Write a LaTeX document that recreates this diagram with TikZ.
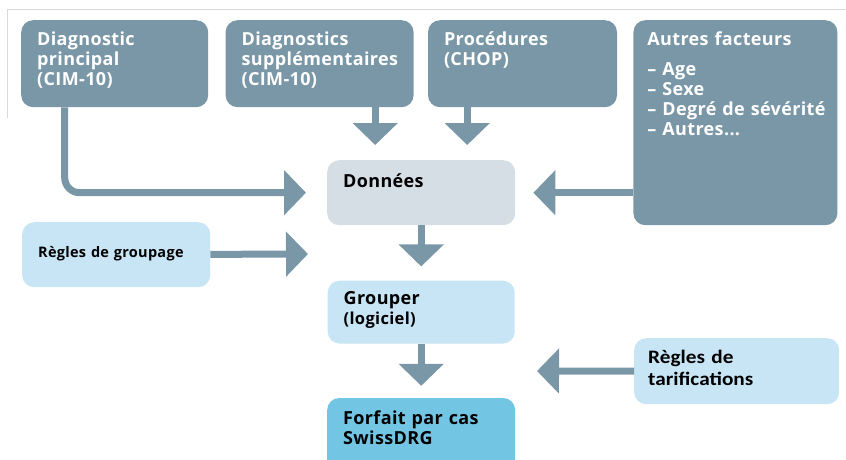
\documentclass[tikz,border=0pt]{standalone}
\usepackage{fontspec}
\setmainfont{Open Sans}[LetterSpace=2]
\newfontfamily\calfont{Carlito}[FakeStretch=1.12]
\usetikzlibrary{arrows.meta,positioning}

\definecolor{slate}{RGB}{122,151,168}
\definecolor{datagray}{RGB}{214,222,229}
\definecolor{paleblue}{RGB}{199,229,245}
\definecolor{swissblue}{RGB}{115,197,228}

\begin{document}
\begin{tikzpicture}[
    x=1pt, y=-1pt,
    box/.style={rectangle, rounded corners=12pt, anchor=north west, align=left, inner xsep=16pt, inner ysep=0pt, font=\bfseries\fontsize{18}{20}\selectfont},
    dark/.style={box, fill=slate, text=white},
    light/.style={box, fill=paleblue, text=black},
    boxdim/.style n args={3}{text width=#1, text height=#2, text depth=#3},
    fat/.style={draw=slate, line width=7pt, -{Triangle[length=22pt, width=44pt]}}
]
\useasboundingbox (0,0) rectangle (846,459);
\clip (0,0) rectangle (846,459);

% frame
\draw[black!15, line width=0.8pt] (7,118) -- (7,9) -- (846,9);

% inputs
\node[dark, boxdim={155pt}{25pt}{62pt}] (diagp) at (21,20) {Diagnostic\\principal\\(CIM-10)};
\node[dark, boxdim={156pt}{25pt}{62pt}] (diags) at ([xshift=17pt]diagp.north east) {Diagnostics\\supplémentaires\\(CIM-10)};
\node[dark, boxdim={157pt}{25pt}{62pt}] (proc) at ([xshift=14pt]diags.north east) {Procédures\\(CHOP)};
\node[dark, inner xsep=14pt, boxdim={176pt}{25pt}{180pt}] (autres) at ([xshift=16pt]proc.north east) {\mbox{Autres facteurs}\\[10pt]– Age\\– Sexe\\\mbox{– Degré de sévérité}\\– Autres...};

% flow
\node[box, fill=datagray, boxdim={156pt}{27pt}{38pt}] (data) at (327,160) {Données};
\node[light, boxdim={155pt}{24pt}{39pt}, below=55pt of data] (grouper) {Grouper\\{\fontsize{16.5}{20}\selectfont (logiciel)}};
\node[box, fill=swissblue, boxdim={156pt}{26pt}{54pt}, below=54pt of grouper] (forfait) {Forfait par cas\\SwissDRG};

% rules
\node[light, boxdim={156pt}{35pt}{30pt}, font=\bfseries\fontsize{14.5}{17}\selectfont] (grp) at (22,222) {Règles de groupage};
\node[light, inner xsep=14pt, boxdim={177pt}{25pt}{41pt}, font=\calfont\bfseries\fontsize{19}{22}\selectfont] (tarif) at (634,338) {Règles de\\tarifications};

\coordinate (grpin) at (308,254);
\coordinate (tarin) at (537,371);

\draw[fat, rounded corners=15pt, shorten >=21pt] ([xshift=-50pt]diagp.south) |- (data.west);
\draw[fat, shorten >=15pt] ([xshift=-46pt]data.north |- diags.south) -- ([xshift=-46pt]data.north);
\draw[fat, shorten >=15pt] ([xshift=46pt]data.north |- proc.south) -- ([xshift=46pt]data.north);
\draw[fat, shorten >=18pt] (autres.west |- data.east) -- (data.east);
\draw[fat, shorten >=14pt] (data.south) -- (grouper.north);
\draw[fat, shorten >=12pt] (grouper.south) -- (forfait.north);
\draw[fat] (grp) -- (grpin);
\draw[fat] (tarif) -- (tarin);

\end{tikzpicture}
\end{document}
